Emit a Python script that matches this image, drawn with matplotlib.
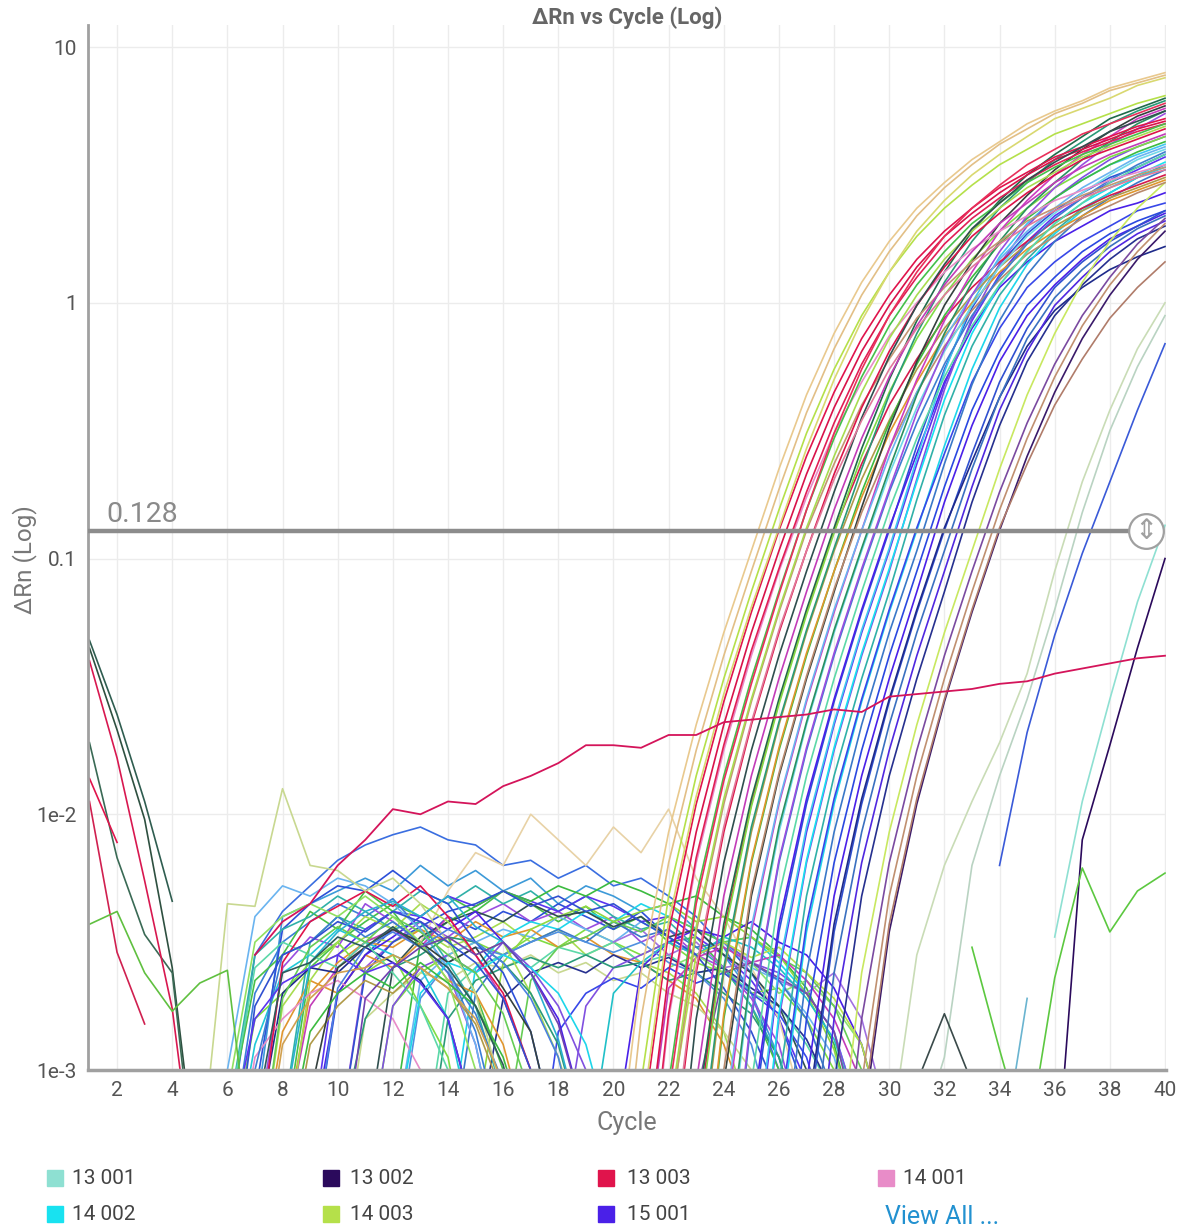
import matplotlib
matplotlib.use("Agg")
import matplotlib.pyplot as plt
from matplotlib.patches import Rectangle
from matplotlib.ticker import FixedLocator, NullLocator
import numpy as np

plt.rcParams["font.family"] = ["Roboto", "DejaVu Sans"]

# ---- data (ΔRn, stored as log10 values per cycle) ----
CYCLE_TICKS = list(range(2, 41, 2))
Y_TICKS = [1e-3, 1e-2, 0.1, 1, 10]
Y_TICK_LABELS = ["1e-3", "1e-2", "0.1", "1", "10"]
THRESHOLD = 0.128

LEGEND_NAMES = ["13 001", "13 002", "13 003", "14 001", "14 002", "14 003", "15 001"]
LEGEND_COLORS = ["#8ee0d2", "#2b0a5c", "#e0144c", "#e88cc8", "#18e2f0", "#b5e04a", "#4a20e8"]

# amplification wells: (first cycle, log10 ΔRn for each cycle from there on)
AMP_EARLY = [
    (20, [-3.5, -2.62, -2.07, -1.65, -1.29, -0.97, -0.65, -0.36, -0.12, 0.08, 0.24, 0.37, 0.47, 0.56, 0.63, 0.70, 0.75, 0.79, 0.84, 0.87, 0.90]),
    (20, [-3.8, -2.80, -2.19, -1.75, -1.38, -1.05, -0.73, -0.43, -0.18, 0.03, 0.20, 0.34, 0.45, 0.54, 0.62, 0.68, 0.74, 0.78, 0.83, 0.86, 0.89]),
    (21, [-3.05, -2.32, -1.85, -1.47, -1.13, -0.81, -0.51, -0.26, -0.05, 0.12, 0.26, 0.37, 0.46, 0.54, 0.60, 0.66, 0.70, 0.74, 0.78, 0.81]),
    (21, [-3.25, -2.46, -1.96, -1.56, -1.21, -0.89, -0.60, -0.35, -0.14, 0.03, 0.17, 0.28, 0.37, 0.45, 0.51, 0.57, 0.61, 0.65, 0.69, 0.72]),
    (21, [-3.5, -2.62, -2.07, -1.65, -1.29, -0.97, -0.67, -0.41, -0.19, -0.01, 0.14, 0.26, 0.35, 0.43, 0.50, 0.56, 0.60, 0.64, 0.68, 0.71]),
    (21, [-3.2, -2.42, -1.93, -1.53, -1.19, -0.88, -0.57, -0.30, -0.07, 0.12, 0.28, 0.40, 0.50, 0.58, 0.65, 0.72, 0.76, 0.80, 0.85, 0.88]),
    (21, [-3.8, -2.80, -2.19, -1.75, -1.38, -1.05, -0.76, -0.51, -0.31, -0.13, 0.00, 0.12, 0.21, 0.28, 0.34, 0.40, 0.44, 0.48, 0.51, 0.54]),
    (21, [-3.75, -2.78, -2.17, -1.73, -1.36, -1.04, -0.74, -0.47, -0.24, -0.05, 0.10, 0.23, 0.33, 0.41, 0.48, 0.54, 0.59, 0.63, 0.67, 0.70]),
    (22, [-3.05, -2.32, -1.85, -1.47, -1.13, -0.81, -0.53, -0.29, -0.09, 0.07, 0.20, 0.31, 0.39, 0.47, 0.53, 0.58, 0.62, 0.66, 0.70]),
    (22, [-3.25, -2.46, -1.96, -1.56, -1.21, -0.89, -0.63, -0.40, -0.22, -0.06, 0.06, 0.16, 0.24, 0.32, 0.37, 0.42, 0.46, 0.50, 0.53]),
    (22, [-3.2, -2.44, -1.94, -1.55, -1.20, -0.88, -0.60, -0.35, -0.14, 0.03, 0.17, 0.28, 0.37, 0.45, 0.51, 0.57, 0.61, 0.65, 0.69]),
    (22, [-3.5, -2.62, -2.07, -1.65, -1.29, -0.97, -0.67, -0.41, -0.19, -0.01, 0.14, 0.26, 0.35, 0.43, 0.50, 0.56, 0.60, 0.64, 0.68]),
    (22, [-3.8, -2.80, -2.19, -1.75, -1.38, -1.05, -0.74, -0.45, -0.21, -0.01, 0.15, 0.29, 0.39, 0.48, 0.55, 0.61, 0.67, 0.71, 0.75]),
    (23, [-3.05, -2.32, -1.85, -1.47, -1.13, -0.81, -0.53, -0.29, -0.09, 0.07, 0.20, 0.31, 0.39, 0.47, 0.53, 0.58, 0.62, 0.66]),
    (22, [-3.1, -2.35, -1.87, -1.49, -1.14, -0.81, -0.51, -0.26, -0.05, 0.12, 0.26, 0.37, 0.46, 0.54, 0.60, 0.66, 0.70, 0.74, 0.78]),
    (22, [-3.45, -2.60, -2.05, -1.64, -1.28, -0.97, -0.69, -0.46, -0.26, -0.10, 0.03, 0.14, 0.23, 0.30, 0.36, 0.41, 0.45, 0.49, 0.52]),
]
AMP_EARLY_COLORS = ["#e9c98e", "#e2bf86", "#b5e04a", "#e0144c", "#d8124a", "#d9d870",
                    "#e88cc8", "#e01e55", "#45c04a", "#c49572", "#a8dc50", "#dc1448",
                    "#2f4f4f", "#c23cb8", "#e8305a", "#e07a9a"]

AMP_MID = [
    (23, [-3.25, -2.46, -1.96, -1.56, -1.21, -0.89, -0.63, -0.40, -0.22, -0.06, 0.06, 0.16, 0.24, 0.32, 0.37, 0.42, 0.46, 0.50]),
    (23, [-3.2, -2.43, -1.94, -1.55, -1.20, -0.88, -0.57, -0.30, -0.07, 0.12, 0.28, 0.40, 0.50, 0.58, 0.65, 0.72, 0.76, 0.80]),
    (23, [-3.3, -2.48, -1.97, -1.57, -1.22, -0.90, -0.60, -0.35, -0.14, 0.03, 0.17, 0.28, 0.37, 0.45, 0.51, 0.57, 0.61, 0.65]),
    (23, [-3.5, -2.62, -2.07, -1.65, -1.29, -0.97, -0.69, -0.46, -0.26, -0.10, 0.03, 0.14, 0.23, 0.30, 0.36, 0.41, 0.45, 0.49]),
    (23, [-3.45, -2.60, -2.05, -1.64, -1.28, -0.96, -0.65, -0.36, -0.12, 0.08, 0.24, 0.37, 0.47, 0.56, 0.63, 0.70, 0.75, 0.79]),
    (23, [-3.8, -2.80, -2.19, -1.75, -1.38, -1.05, -0.74, -0.47, -0.24, -0.05, 0.10, 0.23, 0.33, 0.41, 0.48, 0.54, 0.59, 0.63]),
    (23, [-3.75, -2.78, -2.18, -1.74, -1.37, -1.05, -0.76, -0.51, -0.31, -0.13, 0.00, 0.12, 0.21, 0.28, 0.34, 0.40, 0.44, 0.48]),
    (24, [-3.05, -2.32, -1.85, -1.47, -1.13, -0.80, -0.49, -0.23, -0.01, 0.16, 0.31, 0.42, 0.52, 0.60, 0.67, 0.73, 0.77]),
    (24, [-3.0, -2.30, -1.84, -1.46, -1.12, -0.82, -0.57, -0.35, -0.17, -0.03, 0.09, 0.19, 0.26, 0.33, 0.38, 0.43, 0.47]),
    (24, [-3.25, -2.46, -1.96, -1.56, -1.21, -0.89, -0.57, -0.30, -0.07, 0.12, 0.28, 0.40, 0.50, 0.58, 0.65, 0.72, 0.76]),
    (24, [-3.2, -2.44, -1.95, -1.55, -1.20, -0.89, -0.60, -0.35, -0.14, 0.03, 0.17, 0.28, 0.37, 0.45, 0.51, 0.57, 0.61]),
    (24, [-3.5, -2.62, -2.07, -1.65, -1.29, -0.97, -0.67, -0.41, -0.19, -0.01, 0.14, 0.26, 0.35, 0.43, 0.50, 0.56, 0.60]),
    (24, [-3.45, -2.60, -2.05, -1.64, -1.28, -0.96, -0.65, -0.36, -0.12, 0.08, 0.24, 0.37, 0.47, 0.56, 0.63, 0.70, 0.75]),
    (24, [-3.8, -2.80, -2.19, -1.75, -1.38, -1.05, -0.74, -0.47, -0.24, -0.05, 0.10, 0.23, 0.33, 0.41, 0.48, 0.54, 0.59]),
    (24, [-3.75, -2.78, -2.18, -1.74, -1.37, -1.04, -0.73, -0.43, -0.18, 0.03, 0.20, 0.34, 0.45, 0.54, 0.62, 0.68, 0.74]),
    (25, [-3.05, -2.32, -1.85, -1.47, -1.13, -0.81, -0.53, -0.29, -0.09, 0.07, 0.20, 0.31, 0.39, 0.47, 0.53, 0.58]),
]
AMP_MID_COLORS = ["#d41a4c", "#1f6b4a", "#7fdc44", "#b09a48", "#2a9a78", "#3cbb40",
                  "#e0962e", "#34403e", "#b98a6e", "#cc3cc0", "#6ab4f0", "#70d8e8",
                  "#2a9060", "#3d7fd0", "#9a4ee0", "#5cd8a8"]

AMP_LATE = [
    (25, [-3.25, -2.46, -1.96, -1.56, -1.21, -0.89, -0.56, -0.26, -0.02, 0.15, 0.27, 0.36, 0.43, 0.49, 0.53, 0.58]),
    (25, [-3.2, -2.43, -1.94, -1.55, -1.20, -0.88, -0.59, -0.31, -0.10, 0.06, 0.16, 0.24, 0.30, 0.36, 0.39, 0.43]),
    (25, [-3.5, -2.62, -2.07, -1.65, -1.29, -0.97, -0.63, -0.32, -0.07, 0.11, 0.24, 0.34, 0.41, 0.47, 0.52, 0.57]),
    (25, [-3.45, -2.60, -2.05, -1.64, -1.28, -0.96, -0.61, -0.27, 0.00, 0.18, 0.31, 0.41, 0.48, 0.54, 0.58, 0.62]),
    (25, [-3.8, -2.80, -2.19, -1.75, -1.38, -1.05, -0.69, -0.34, -0.06, 0.15, 0.30, 0.41, 0.49, 0.56, 0.61, 0.65]),
    (25, [-3.75, -2.78, -2.18, -1.74, -1.37, -1.04, -0.70, -0.38, -0.12, 0.07, 0.20, 0.31, 0.39, 0.45, 0.50, 0.55]),
    (26, [-3.05, -2.32, -1.85, -1.47, -1.13, -0.77, -0.44, -0.17, 0.03, 0.17, 0.28, 0.37, 0.43, 0.49, 0.54]),
    (26, [-3.25, -2.46, -1.96, -1.56, -1.21, -0.89, -0.56, -0.26, -0.02, 0.15, 0.27, 0.36, 0.43, 0.49, 0.53]),
    (26, [-3.2, -2.43, -1.94, -1.55, -1.20, -0.88, -0.59, -0.31, -0.10, 0.06, 0.16, 0.24, 0.30, 0.36, 0.39]),
    (26, [-3.5, -2.62, -2.07, -1.65, -1.29, -0.97, -0.63, -0.32, -0.07, 0.11, 0.24, 0.34, 0.41, 0.47, 0.52]),
    (26, [-3.8, -2.80, -2.19, -1.75, -1.38, -1.05, -0.72, -0.42, -0.19, -0.01, 0.10, 0.20, 0.27, 0.32, 0.36]),
    (27, [-3.05, -2.32, -1.85, -1.47, -1.13, -0.78, -0.48, -0.23, -0.05, 0.07, 0.17, 0.25, 0.30, 0.35]),
    (27, [-3.25, -2.46, -1.96, -1.56, -1.21, -0.89, -0.59, -0.31, -0.10, 0.06, 0.16, 0.24, 0.30, 0.36]),
    (27, [-3.2, -2.43, -1.94, -1.55, -1.20, -0.88, -0.62, -0.37, -0.17, -0.03, 0.06, 0.13, 0.18, 0.22]),
    (27, [-3.5, -2.62, -2.07, -1.65, -1.29, -0.97, -0.65, -0.37, -0.14, 0.02, 0.13, 0.22, 0.29, 0.34]),
    (27, [-3.8, -2.80, -2.19, -1.75, -1.38, -1.05, -0.72, -0.42, -0.19, -0.01, 0.10, 0.20, 0.27, 0.32]),
    (28, [-3.05, -2.32, -1.85, -1.47, -1.13, -0.78, -0.48, -0.23, -0.05, 0.07, 0.17, 0.25, 0.30]),
    (28, [-3.5, -2.62, -2.07, -1.65, -1.29, -0.97, -0.65, -0.36, -0.12, 0.08, 0.24, 0.37, 0.47]),
    (28, [-3.8, -2.80, -2.19, -1.75, -1.38, -1.05, -0.74, -0.47, -0.24, -0.05, 0.10, 0.23, 0.33]),
    (29, [-3.05, -2.32, -1.85, -1.47, -1.13, -0.81, -0.53, -0.29, -0.09, 0.07, 0.20, 0.31]),
    (29, [-3.25, -2.46, -1.96, -1.56, -1.21, -0.89, -0.60, -0.35, -0.14, 0.03, 0.17, 0.28]),
    (29, [-3.2, -2.43, -1.94, -1.55, -1.20, -0.88, -0.63, -0.40, -0.22, -0.06, 0.06, 0.16]),
]
AMP_LATE_COLORS = ["#2c50d8", "#4a20e8", "#5a34f0", "#40c8f0", "#8050e0", "#18e2f0",
                   "#30b0a8", "#1ed6ea", "#3848e8", "#3a78c8", "#2a48e0", "#4a20e8",
                   "#3050d0", "#1e2a8a", "#3a70c0", "#5028e0", "#26308f", "#c8e860",
                   "#7a4aa0", "#c09070", "#3a1a6a", "#b07c6a"]

# baseline noise, short arches over the first cycles
NOISE_SHORT = [
    (6, [-3.4, -2.70, -2.50, -2.42, -2.35, -2.40, -2.33, -2.45, -2.60, -2.85, -3.3]),
    (6, [-3.2, -2.65, -2.55, -2.38, -2.45, -2.30, -2.38, -2.52, -2.48, -2.70, -3.0, -3.5]),
    (7, [-3.3, -2.60, -2.48, -2.52, -2.35, -2.42, -2.50, -2.62, -2.90, -3.4]),
    (6, [-3.5, -2.90, -2.62, -2.55, -2.45, -2.50, -2.55, -2.60, -2.80, -3.3]),
    (7, [-3.1, -2.45, -2.35, -2.28, -2.30, -2.22, -2.30, -2.35, -2.50, -2.62, -2.85, -3.3]),
    (6, [-3.4, -2.80, -2.70, -2.58, -2.50, -2.62, -2.55, -2.75, -2.95, -3.5]),
    (8, [-3.3, -2.75, -2.60, -2.50, -2.45, -2.52, -2.40, -2.55, -2.72, -3.0, -3.4]),
    (6, [-3.2, -2.55, -2.45, -2.40, -2.32, -2.38, -2.45, -2.42, -2.58, -2.75, -3.1]),
    (7, [-3.5, -2.85, -2.65, -2.70, -2.55, -2.60, -2.50, -2.65, -2.70, -2.90, -3.3]),
    (9, [-3.3, -2.70, -2.55, -2.48, -2.40, -2.45, -2.38, -2.50, -2.62, -2.80, -3.2]),
    (6, [-3.0, -2.40, -2.28, -2.32, -2.25, -2.28, -2.35, -2.45, -2.60, -2.90, -3.4]),
    (8, [-3.4, -2.65, -2.50, -2.40, -2.45, -2.35, -2.42, -2.55, -2.50, -2.70, -2.95, -3.3]),
    (7, [-3.3, -2.70, -2.60, -2.62, -2.52, -2.58, -2.65, -2.80, -3.2]),
    (6, [-3.6, -2.95, -2.80, -2.70, -2.65, -2.72, -2.80, -3.0, -3.4]),
    (10, [-3.3, -2.80, -2.60, -2.55, -2.48, -2.50, -2.58, -2.70, -2.90, -3.3]),
    (7, [-3.0, -2.55, -2.50, -2.40, -2.48, -2.42, -2.50, -2.62, -2.78, -3.05, -3.5]),
    (8, [-3.5, -2.90, -2.75, -2.65, -2.70, -2.60, -2.68, -2.82, -3.1]),
    (6, [-3.2, -2.60, -2.50, -2.55, -2.60, -2.50, -2.62, -2.75, -3.0, -3.4]),
    (11, [-3.4, -2.75, -2.60, -2.55, -2.62, -2.50, -2.60, -2.75, -3.0, -3.4]),
    (9, [-3.1, -2.60, -2.52, -2.45, -2.50, -2.58, -2.52, -2.68, -2.85, -3.3]),
    (7, [-3.4, -2.58, -2.42, -2.36, -2.30, -2.36, -2.28, -2.40, -2.55, -2.70, -3.0, -3.4]),
    (12, [-3.3, -2.70, -2.58, -2.62, -2.55, -2.60, -2.70, -2.90, -3.3]),
    (5, [-3.4, -2.35, -2.36, -1.90, -2.20, -2.22, -2.30, -2.25, -2.35, -2.50, -2.70, -3.1]),
    (6, [-3.6, -2.75, -2.55, -2.50, -2.42, -2.46, -2.38, -2.42, -2.50, -2.58, -2.72, -3.0, -3.4]),
    (7, [-3.5, -2.72, -2.52, -2.44, -2.50, -2.40, -2.46, -2.55, -2.62, -2.78, -3.1, -3.5]),
    (6, [-3.3, -2.80, -2.66, -2.60, -2.55, -2.62, -2.58, -2.66, -2.80, -3.2]),
    (8, [-3.2, -2.58, -2.46, -2.38, -2.34, -2.40, -2.32, -2.44, -2.50, -2.62, -2.88, -3.3]),
    (7, [-3.6, -2.90, -2.72, -2.62, -2.60, -2.55, -2.60, -2.68, -2.80, -3.05, -3.5]),
    (9, [-3.4, -2.68, -2.52, -2.46, -2.52, -2.45, -2.50, -2.58, -2.72, -2.95, -3.4]),
    (6, [-3.1, -2.50, -2.40, -2.35, -2.40, -2.32, -2.40, -2.50, -2.65, -3.0]),
    (10, [-3.5, -2.72, -2.60, -2.52, -2.48, -2.55, -2.50, -2.62, -2.82, -3.2]),
    (8, [-3.4, -2.85, -2.70, -2.62, -2.68, -2.58, -2.66, -2.75, -2.95, -3.3]),
    (7, [-3.2, -2.62, -2.58, -2.48, -2.52, -2.44, -2.52, -2.60, -2.75, -2.98, -3.4]),
]
NOISE_SHORT_COLORS = ["#3a7fd8", "#48c048", "#9a4ee0", "#20c8d8", "#2c50d8", "#7fdc44",
                      "#c23cb8", "#30b0a8", "#e0962e", "#4a20e8", "#6ab4f0", "#a8dc50",
                      "#1e2a8a", "#e88cc8", "#2a9a78", "#3d7fd0", "#b09a48", "#5cd8a8",
                      "#8050e0", "#34403e", "#e0144c", "#1ed6ea", "#c8d890", "#3050d0",
                      "#66cc55", "#5a34f0", "#2ab0d0", "#d0a050", "#4a80e0", "#90e060",
                      "#7040b0", "#3cbb40", "#2e5a5a"]

# baseline noise, long flat stretches before the rise
NOISE_LONG = [
    (6, [-3.3, -2.55, -2.38, -2.28, -2.18, -2.12, -2.08, -2.05, -2.10, -2.12, -2.20, -2.18, -2.25, -2.20, -2.28, -2.25, -2.32, -2.40, -2.52, -2.70, -3.0, -3.4]),
    (7, [-3.2, -2.40, -2.35, -2.30, -2.25, -2.30, -2.20, -2.28, -2.22, -2.30, -2.25, -2.35, -2.28, -2.32, -2.38, -2.35, -2.45, -2.55, -2.70, -2.95, -3.3]),
    (8, [-3.3, -2.60, -2.50, -2.42, -2.35, -2.40, -2.32, -2.38, -2.30, -2.35, -2.42, -2.36, -2.45, -2.40, -2.50, -2.48, -2.60, -2.75, -3.0, -3.4]),
    (9, [-3.4, -2.70, -2.55, -2.45, -2.50, -2.40, -2.45, -2.38, -2.42, -2.35, -2.40, -2.45, -2.38, -2.48, -2.55, -2.50, -2.62, -2.80, -3.1, -3.5]),
    (7, [-3.5, -2.75, -2.60, -2.55, -2.48, -2.50, -2.45, -2.52, -2.48, -2.42, -2.50, -2.45, -2.55, -2.50, -2.58, -2.62, -2.70, -2.85, -3.2]),
    (10, [-3.3, -2.60, -2.50, -2.42, -2.48, -2.40, -2.35, -2.42, -2.38, -2.45, -2.40, -2.50, -2.45, -2.55, -2.60, -2.72, -2.90, -3.3]),
    (8, [-3.2, -2.50, -2.40, -2.45, -2.38, -2.30, -2.35, -2.28, -2.35, -2.30, -2.38, -2.32, -2.40, -2.45, -2.42, -2.52, -2.60, -2.75, -2.95, -3.3]),
    (11, [-3.4, -2.75, -2.62, -2.55, -2.50, -2.55, -2.48, -2.52, -2.45, -2.50, -2.55, -2.50, -2.58, -2.62, -2.70, -2.68, -2.80, -3.0, -3.4]),
    (12, [-3.3, -2.65, -2.55, -2.50, -2.45, -2.48, -2.40, -2.45, -2.50, -2.42, -2.48, -2.55, -2.50, -2.60, -2.65, -2.78, -2.95, -3.3]),
    (9, [-3.3, -2.55, -2.45, -2.38, -2.40, -2.32, -2.36, -2.30, -2.34, -2.38, -2.32, -2.36, -2.42, -2.40, -2.48, -2.55, -2.65, -2.80, -3.05, -3.4]),
    (13, [-3.4, -2.70, -2.60, -2.55, -2.60, -2.52, -2.55, -2.50, -2.58, -2.55, -2.62, -2.60, -2.70, -2.75, -2.90, -3.1, -3.5]),
    (8, [-3.3, -2.70, -2.58, -2.50, -2.52, -2.45, -2.50, -2.42, -2.48, -2.45, -2.52, -2.48, -2.55, -2.58, -2.65, -2.72, -2.90, -3.2]),
    (14, [-3.3, -2.60, -2.48, -2.42, -2.45, -2.38, -2.42, -2.35, -2.40, -2.45, -2.50, -2.48, -2.58, -2.70, -2.85, -3.2]),
    (10, [-3.5, -2.80, -2.70, -2.62, -2.65, -2.58, -2.60, -2.55, -2.62, -2.58, -2.65, -2.62, -2.70, -2.75, -2.85, -3.0, -3.3]),
    (12, [-3.2, -2.50, -2.42, -2.36, -2.30, -2.34, -2.28, -2.32, -2.26, -2.30, -2.35, -2.32, -2.40, -2.45, -2.55, -2.68, -2.90, -3.3]),
    (15, [-3.3, -2.72, -2.62, -2.58, -2.62, -2.55, -2.60, -2.56, -2.62, -2.60, -2.68, -2.75, -2.88, -3.1, -3.5]),
    (13, [-2.50, -2.30, -2.15, -2.20, -2.00, -2.10, -2.20, -2.05, -2.15, -1.98, -2.25, -2.40, -2.60, -2.80, -3.2]),
    (20, [-2.50, -2.45, -2.55, -2.50, -2.60, -2.58, -2.65, -2.70, -2.62, -2.80, -3.2]),
    (22, [-2.60, -2.55, -2.62, -2.58, -2.70, -2.65, -2.75, -2.90, -3.3]),
    (14, [-3.4, -2.70, -2.55, -2.50, -2.45, -2.50, -2.42, -2.48, -2.45, -2.52, -2.50, -2.58, -2.65, -2.80, -3.1, -3.5]),
    (16, [-3.3, -2.65, -2.52, -2.48, -2.42, -2.46, -2.40, -2.45, -2.50, -2.48, -2.56, -2.62, -2.75, -3.0, -3.4]),
    (18, [-3.4, -2.75, -2.60, -2.55, -2.50, -2.55, -2.50, -2.58, -2.62, -2.70, -2.85, -3.2]),
    (13, [-3.5, -2.80, -2.65, -2.60, -2.56, -2.60, -2.55, -2.60, -2.58, -2.65, -2.62, -2.70, -2.78, -2.95, -3.3]),
    (20, [-3.3, -2.60, -2.50, -2.45, -2.48, -2.42, -2.50, -2.55, -2.68, -2.90, -3.3]),
    (15, [-3.2, -2.58, -2.45, -2.40, -2.36, -2.42, -2.38, -2.35, -2.42, -2.40, -2.48, -2.55, -2.70, -2.92, -3.3]),
    (17, [-3.6, -2.85, -2.70, -2.64, -2.68, -2.60, -2.66, -2.62, -2.70, -2.78, -2.95, -3.3]),
    (19, [-3.4, -2.70, -2.58, -2.50, -2.55, -2.48, -2.52, -2.60, -2.72, -2.88, -3.2]),
    (11, [-3.3, -2.60, -2.48, -2.42, -2.38, -2.42, -2.35, -2.40, -2.38, -2.44, -2.40, -2.48, -2.45, -2.55, -2.62, -2.75, -3.0, -3.4]),
    (21, [-3.5, -2.68, -2.56, -2.52, -2.58, -2.55, -2.65, -2.80, -3.05, -3.4]),
    (12, [-3.4, -2.72, -2.58, -2.52, -2.55, -2.50, -2.46, -2.50, -2.54, -2.50, -2.58, -2.62, -2.72, -2.90, -3.3]),
    (22, [-3.2, -2.55, -2.50, -2.56, -2.52, -2.62, -2.72, -2.90, -3.3]),
    (10, [-3.3, -2.62, -2.50, -2.44, -2.38, -2.35, -2.30, -2.36, -2.32, -2.38, -2.35, -2.42, -2.48, -2.55, -2.68, -2.85, -3.1, -3.5]),
    (23, [-3.1, -2.62, -2.58, -2.64, -2.70, -2.85, -3.3]),
]
NOISE_LONG_COLORS = ["#3a6ee0", "#3d9ad8", "#48c048", "#2c50d8", "#a8dc50", "#9a4ee0",
                     "#30b0a8", "#7fdc44", "#6ab4f0", "#5a34f0", "#5cd8a8", "#e0962e",
                     "#1ed6ea", "#c8d890", "#3cbb40", "#26308f", "#e8d2a6", "#a070e0",
                     "#8ce070", "#3a78c8", "#66cc55", "#8050e0", "#2a9a78", "#4a20e8",
                     "#90d840", "#3848e8", "#20c0c8", "#2f4f4f", "#c23cb8", "#5090e0",
                     "#b5e04a", "#3050d0", "#7a4aa0"]

# wells that start high at cycle 1 and fall away
START_DROP = [
    (1, [-1.32, -1.61, -1.95, -2.34]),
    (1, [-1.35, -1.67, -2.02, -2.60, -3.5]),
    (1, [-1.72, -2.17, -2.47, -2.62, -3.6]),
    (1, [-1.40, -1.78, -2.26, -2.76, -3.6]),
    (1, [-1.86, -2.11]),
    (1, [-1.95, -2.54, -2.82]),
    (1, [-2.43, -2.38, -2.62, -2.77, -2.66, -2.61, -3.5]),
]
START_DROP_COLORS = ["#2f5d50", "#2e5040", "#3a6a55", "#d81850", "#e0144c", "#d02050", "#60c040"]

# slow drifting well (13 003)
RED_DRIFT = (7, [-2.55, -2.42, -2.35, -2.20, -2.10, -1.98, -2.00, -1.95, -1.96, -1.89, -1.85, -1.80,
                 -1.73, -1.73, -1.74, -1.69, -1.69, -1.64, -1.63, -1.62, -1.61, -1.59, -1.60, -1.54,
                 -1.53, -1.52, -1.51, -1.49, -1.48, -1.45, -1.43, -1.41, -1.39, -1.38])

# late risers and odd late wells
LATE_WELLS = [
    (30, [-3.3, -2.55, -2.20, -1.95, -1.72, -1.45, -1.05, -0.70, -0.42, -0.18, 0.00]),
    (31, [-3.3, -2.95, -2.20, -1.85, -1.55, -1.20, -0.82, -0.50, -0.25, -0.05]),
    (34, [-2.20, -1.68, -1.30, -0.98, -0.70, -0.42, -0.16]),
    (36, [-2.48, -1.95, -1.55, -1.17, -0.87]),
    (34, [-3.4, -2.72]),
    (36, [-3.5, -2.10, -1.73, -1.35, -1.00]),
    (33, [-2.52, -2.92, -3.3, -2.64, -2.21, -2.46, -2.30, -2.23]),
    (31, [-3.05, -2.78, -3.05]),
]
LATE_WELLS_COLORS = ["#c9dcb6", "#b9d3c2", "#3a5ad8", "#8ee0d2", "#6ab4d0", "#2b0a5c", "#5cc840", "#3a4a4a"]


def to_series(start, logs):
    x = np.arange(start, start + len(logs))
    y = np.array([np.nan if v is None else 10.0 ** v for v in logs])
    return x, y


W, H = 1187, 1232
fig = plt.figure(figsize=(W / 100, H / 100), dpi=100)
ax = fig.add_axes([88 / W, 162 / H, (1166 - 88) / W, (1207 - 162) / H])
ax.set_yscale("log")

groups = [
    (NOISE_LONG, NOISE_LONG_COLORS),
    (NOISE_SHORT, NOISE_SHORT_COLORS),
    (START_DROP, START_DROP_COLORS),
    (AMP_LATE, AMP_LATE_COLORS),
    (AMP_MID, AMP_MID_COLORS),
    (AMP_EARLY, AMP_EARLY_COLORS),
    (LATE_WELLS, LATE_WELLS_COLORS),
]
for curves, colors in groups:
    for (start, logs), col in zip(curves, colors):
        x, y = to_series(start, logs)
        ax.plot(x, y, color=col, lw=1.2, solid_joinstyle="round")

x, y = to_series(*RED_DRIFT)
ax.plot(x, y, color="#d4145a", lw=1.3)

ax.set_xlim(0.946, 40.036)
ax.set_ylim(1e-3, 12.2)

# threshold line with its drag handle
ax.plot([0.946, 39.3], [THRESHOLD, THRESHOLD], color="#8c8c8c", lw=3.2, zorder=9)
ax.plot([39.3], [THRESHOLD], marker="o", ms=25, mfc="white", mec="#a0a0a0", mew=1.6,
        zorder=10, clip_on=False)
ax.text(39.3, THRESHOLD, "\u21d5", ha="center", va="center", fontsize=20,
        color="#a0a0a0", family="DejaVu Sans", zorder=11)
ax.annotate("0.128", xy=(1.63, THRESHOLD), xytext=(0, 2.5), textcoords="offset points",
            ha="left", va="bottom", fontsize=20.5, color="#8a8a8a", zorder=11)

ax.xaxis.set_major_locator(FixedLocator(CYCLE_TICKS))
ax.yaxis.set_major_locator(FixedLocator(Y_TICKS))
ax.yaxis.set_minor_locator(NullLocator())
ax.set_yticklabels(Y_TICK_LABELS)
ax.tick_params(length=0, labelsize=15, labelcolor="#555555")
ax.tick_params(axis="x", pad=8)
ax.tick_params(axis="y", pad=8)

ax.grid(True, color="#ececec", lw=1)
ax.set_axisbelow(True)
for side in ["top", "right"]:
    ax.spines[side].set_visible(False)
ax.spines["left"].set_color("#a0a0a0")
ax.spines["left"].set_linewidth(2)
ax.spines["bottom"].set_color("#a0a0a0")
ax.spines["bottom"].set_linewidth(2.5)

fig.text(627 / W, 1 - 18 / H, "\u0394Rn vs Cycle (Log)", ha="center", va="center",
         fontsize=16, fontweight="bold", color="#666666")
fig.text(627 / W, 1 - 1123 / H, "Cycle", ha="center", va="center", fontsize=18, color="#777777")
fig.text(25 / W, 1 - 560 / H, "\u0394Rn (Log)", ha="center", va="center", rotation=90,
         fontsize=17.5, color="#777777")

# legend row under the chart
sq_x = [47, 323, 598, 878]
txt_x = [72, 350, 627, 903]
row_y = [1178, 1214]
for i, (name, col) in enumerate(zip(LEGEND_NAMES, LEGEND_COLORS)):
    c, r = i % 4, i // 4
    fig.patches.append(Rectangle((sq_x[c] / W, 1 - (row_y[r] + 8) / H), 16 / W, 16 / H,
                                 transform=fig.transFigure, color=col))
    fig.text(txt_x[c] / W, 1 - row_y[r] / H, name, va="center", fontsize=15, color="#444444")
fig.text(885 / W, 1 - 1217 / H, "View All ...", va="center", fontsize=18, color="#2291d0")

fig.savefig("out.png", dpi=100)
